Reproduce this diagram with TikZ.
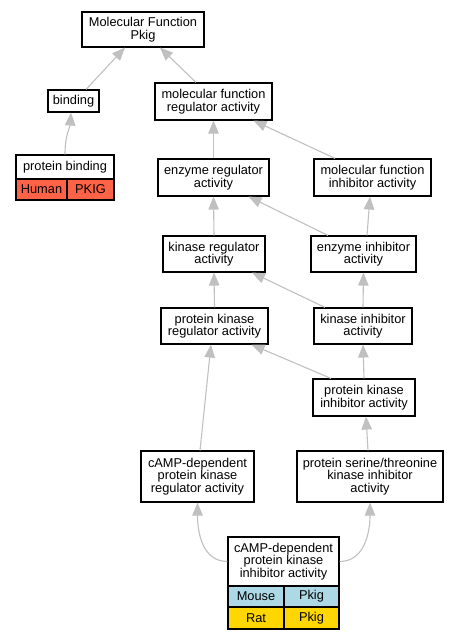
\documentclass[tikz,border=0pt]{standalone}
\usepackage{fontspec}
\setmainfont{Liberation Sans}
\usetikzlibrary{arrows.meta}
\definecolor{edgegray}{HTML}{C0C0C0}
\definecolor{tomatoc}{HTML}{FF6347}
\definecolor{lblue}{HTML}{ADD8E6}
\definecolor{goldc}{HTML}{FFD700}
\begin{document}
\begin{tikzpicture}[x=1pt,y=-1pt,
  box/.style={draw=black,line width=1.1pt,fill=white,align=center,inner sep=0pt,
    font=\fontsize{12.8}{12.5}\selectfont},
  cell/.style={draw=black,line width=1.1pt,inner sep=0pt,align=center,
    font=\fontsize{12.8}{12.5}\selectfont},
  edge/.style={draw=edgegray,line width=1.1pt,-{Triangle[length=13pt,width=10.5pt,fill=edgegray]}}]
\useasboundingbox (0,0) rectangle (457,640);
% nodes
\node[box,minimum width=122pt,minimum height=35pt] (mf) at (143,29.5) {Molecular Function\\Pkig};
\node[box,minimum width=51pt,minimum height=22pt] (binding) at (73.5,101) {binding};
\node[box,minimum width=117pt,minimum height=37pt] (mfra) at (213.5,101.5) {molecular function\\regulator activity};
\node[box,minimum width=111pt,minimum height=37pt] (era) at (213.5,177.5) {enzyme regulator\\activity};
\node[box,minimum width=117pt,minimum height=37pt] (mfia) at (372.5,177.5) {molecular function\\inhibitor activity};
\node[box,minimum width=102pt,minimum height=36pt] (kra) at (214,254) {kinase regulator\\activity};
\node[box,minimum width=105pt,minimum height=36pt] (eia) at (363.5,254) {enzyme inhibitor\\activity};
\node[box,minimum width=107pt,minimum height=36pt] (pkra) at (214.5,326) {protein kinase\\regulator activity};
\node[box,minimum width=98pt,minimum height=36pt] (kia) at (363,326) {kinase inhibitor\\activity};
\node[box,minimum width=102pt,minimum height=37pt] (pkia) at (364,397.5) {protein kinase\\inhibitor activity};
\node[box,minimum width=113pt,minimum height=51pt] (campreg) at (197.5,476.5) {cAMP-dependent\\protein kinase\\regulator activity};
\node[box,minimum width=146pt,minimum height=51pt] (pst) at (370,476.5) {protein serine/threonine\\kinase inhibitor\\activity};
% protein binding table
\node[cell,fill=white,minimum width=98pt,minimum height=24pt] (pbhead) at (65,167) {protein binding};
\node[cell,fill=tomatoc,minimum width=51pt,minimum height=21pt] (pbhuman) at (41.5,189.5) {Human};
\node[cell,fill=tomatoc,minimum width=47pt,minimum height=21pt] (pbpkig) at (90.5,189.5) {PKIG};
% cAMP-dependent inhibitor table
\node[cell,fill=white,minimum width=111pt,minimum height=49pt] (camphead) at (283.5,561.5) {cAMP-dependent\\protein kinase\\inhibitor activity};
\node[cell,fill=lblue,minimum width=56pt,minimum height=21pt] (mouse) at (256,596.5) {Mouse};
\node[cell,fill=lblue,minimum width=55pt,minimum height=21pt] (mousepkig) at (311.5,596.5) {Pkig};
\node[cell,fill=goldc,minimum width=56pt,minimum height=22pt] (rat) at (256,618) {Rat};
\node[cell,fill=goldc,minimum width=55pt,minimum height=22pt] (ratpkig) at (311.5,618) {Pkig};
% edges
\draw[edge] ([xshift=12.5pt]binding.north) -- ([xshift=-18pt]mf.south);
\draw[edge] ([xshift=-17.5pt]mfra.north) -- ([xshift=17pt]mf.south);
\draw[edge] (pbhead.north) .. controls +(0,-20) and +(-1,15) .. ([xshift=-2.5pt]binding.south);
\draw[edge] (era.north) -- (mfra.south);
\draw[edge] ([xshift=-37.5pt]mfia.north) -- ([xshift=40pt]mfra.south);
\draw[edge] (kra.north) -- (era.south);
\draw[edge] ([xshift=-35.5pt]eia.north) -- ([xshift=35pt]era.south);
\draw[edge] ([xshift=3.5pt]eia.north) -- ([xshift=-2.5pt]mfia.south);
\draw[edge] (pkra.north) -- (kra.south);
\draw[edge] ([xshift=-38pt]kia.north) -- ([xshift=38pt]kra.south);
\draw[edge] (kia.north) -- (eia.south);
\draw[edge] ([xshift=-33pt]pkia.north) -- ([xshift=37pt]pkra.south);
\draw[edge] (pkia.north) -- (kia.south);
\draw[edge] ([xshift=2.5pt]campreg.north) -- ([xshift=-3.5pt]pkra.south);
\draw[edge] ([xshift=-2pt]pst.north) -- ([xshift=2pt]pkia.south);
\draw[edge] (camphead.west) .. controls +(-25,0) and +(0,30) .. (campreg.south);
\draw[edge] (camphead.east) .. controls +(25,0) and +(0,30) .. (pst.south);
\end{tikzpicture}
\end{document}
